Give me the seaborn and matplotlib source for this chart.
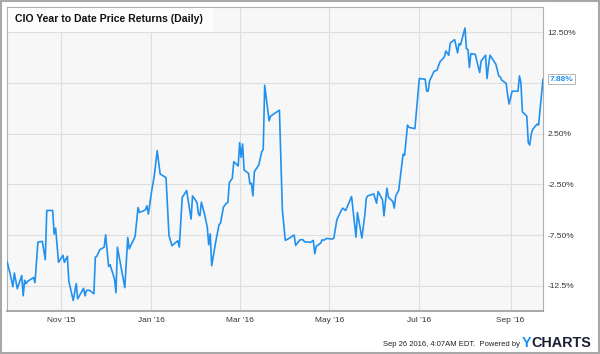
import pandas as pd
import seaborn as sns
import matplotlib.pyplot as plt
import matplotlib.dates as mdates
from matplotlib.patches import Rectangle

# Daten
dates = [
    "2015-09-25", "2015-09-27", "2015-09-29", "2015-09-30", "2015-10-02", "2015-10-05",
    "2015-10-06", "2015-10-07", "2015-10-08", "2015-10-09", "2015-10-13", "2015-10-14",
    "2015-10-16", "2015-10-19", "2015-10-21", "2015-10-22", "2015-10-26", "2015-10-27",
    "2015-10-28", "2015-10-30", "2015-11-02", "2015-11-03", "2015-11-05", "2015-11-06",
    "2015-11-09", "2015-11-11", "2015-11-12", "2015-11-16", "2015-11-17", "2015-11-18",
    "2015-11-20", "2015-11-23", "2015-11-24", "2015-11-25", "2015-11-27", "2015-11-30",
    "2015-12-01", "2015-12-03", "2015-12-04", "2015-12-07", "2015-12-08", "2015-12-09",
    "2015-12-14", "2015-12-16", "2015-12-17", "2015-12-21", "2015-12-23", "2015-12-24",
    "2015-12-28", "2015-12-29", "2015-12-30", "2016-01-01", "2016-01-03", "2016-01-05",
    "2016-01-07", "2016-01-11", "2016-01-13", "2016-01-15", "2016-01-19", "2016-01-20",
    "2016-01-22", "2016-01-25", "2016-01-28", "2016-01-29", "2016-02-01", "2016-02-02",
    "2016-02-03", "2016-02-04", "2016-02-06", "2016-02-08", "2016-02-09", "2016-02-10",
    "2016-02-11", "2016-02-14", "2016-02-16", "2016-02-17", "2016-02-19", "2016-02-21",
    "2016-02-22", "2016-02-23", "2016-02-25", "2016-02-26", "2016-02-29", "2016-03-01",
    "2016-03-02", "2016-03-03", "2016-03-04", "2016-03-07", "2016-03-08", "2016-03-09",
    "2016-03-10", "2016-03-11", "2016-03-14", "2016-03-16", "2016-03-17", "2016-03-18",
    "2016-03-21", "2016-03-22", "2016-03-28", "2016-03-30", "2016-04-01", "2016-04-04",
    "2016-04-06", "2016-04-07", "2016-04-08", "2016-04-11", "2016-04-13", "2016-04-14",
    "2016-04-18", "2016-04-20", "2016-04-21", "2016-04-22", "2016-04-25", "2016-04-26",
    "2016-04-27", "2016-04-29", "2016-05-03", "2016-05-04", "2016-05-06", "2016-05-09",
    "2016-05-10", "2016-05-12", "2016-05-16", "2016-05-19", "2016-05-20", "2016-05-23",
    "2016-05-25", "2016-05-26", "2016-05-27", "2016-05-31", "2016-06-02", "2016-06-03",
    "2016-06-06", "2016-06-07", "2016-06-09", "2016-06-10", "2016-06-13", "2016-06-14",
    "2016-06-15", "2016-06-17", "2016-06-20", "2016-06-21", "2016-06-23", "2016-06-24",
    "2016-06-28", "2016-07-01", "2016-07-05", "2016-07-06", "2016-07-07", "2016-07-08",
    "2016-07-11", "2016-07-13", "2016-07-15", "2016-07-18", "2016-07-19", "2016-07-21",
    "2016-07-22", "2016-07-25", "2016-07-27", "2016-07-28", "2016-07-29", "2016-08-01",
    "2016-08-02", "2016-08-03", "2016-08-04", "2016-08-05", "2016-08-08", "2016-08-09",
    "2016-08-11", "2016-08-12", "2016-08-15", "2016-08-16", "2016-08-17", "2016-08-18",
    "2016-08-22", "2016-08-24", "2016-08-25", "2016-08-26", "2016-08-29", "2016-08-30",
    "2016-08-31", "2016-09-02", "2016-09-06", "2016-09-07", "2016-09-08", "2016-09-09",
    "2016-09-12", "2016-09-13", "2016-09-14", "2016-09-15", "2016-09-16", "2016-09-19",
    "2016-09-20", "2016-09-23",
]
returns = [
    -10.1, -11.25, -12.6, -11.25, -12.8, -11.5,
    -13.5, -11.97, -12.3, -12.07, -11.7, -12.2,
    -8.2, -8.13, -9.94, -5.08, -5.08, -7.41,
    -6.82, -10.2, -9.5, -10.2, -9.6, -12.07,
    -13.97, -12.3, -13.8, -12.76, -13.5, -12.96,
    -12.96, -13.3, -9.68, -9.6, -8.95, -8.7,
    -7.48, -10.6, -10.43, -11.84, -13.2, -8.7,
    -12.7, -7.74, -8.86, -7.64, -4.79, -5.28,
    -5.02, -4.62, -5.44, -3.38, -1.67, 0.82,
    -1.48, -1.84, -7.54, -8.56, -8.07, -8.69,
    -3.8, -3.11, -5.93, -3.64, -4.29, -5.41,
    -5.6, -4.26, -5.34, -6.72, -8.46, -7.38,
    -10.53, -7.97, -6.49, -6.33, -4.75, -4.36,
    -4.29, -2.33, -1.9, -0.26, -0.69, 1.61,
    0.17, 1.48, -1.08, -1.41, -2.46, -2.39,
    -3.64, -1.24, -0.59, 0.72, 0.95, 7.28,
    3.77, 4.23, 4.82, -5.02, -8.03, -7.8,
    -7.57, -7.51, -8.53, -7.97, -7.97, -8.16,
    -8.23, -8.03, -9.35, -8.62, -8.3, -7.97,
    -8.03, -7.84, -7.9, -7.8, -6.0, -5.08,
    -4.85, -5.08, -3.7, -7.71, -5.28, -7.8,
    -5.51, -3.87, -3.64, -3.44, -4.36, -3.21,
    -4.03, -5.61, -2.88, -3.77, -4.2, -4.85,
    -3.64, -3.1, 0.49, 0.36, 3.35, 3.12,
    2.99, 7.94, 7.87, 6.7, 6.7, 7.71,
    8.66, 8.76, 9.58, 10.07, 10.66, 10.24,
    11.45, 11.78, 10.47, 11.39, 11.25, 12.93,
    10.89, 10.79, 9.02, 10.4, 10.33, 9.74,
    8.53, 9.68, 10.24, 7.94, 9.25, 10.24,
    9.35, 8.17, 8.1, 7.78, 7.45, 6.3,
    5.42, 6.69, 6.69, 8.2, 7.52, 4.66,
    4.23, 1.61, 1.38, 2.46, 2.92, 3.45,
    3.35, 7.88,
]
y_ticks = [-12.5, -7.5, -2.5, 2.5, 7.5, 12.5]
y_labels = ["-12.5%", "-7.50%", "-2.50%", "2.50%", "", "12.50%"]
x_ticks = ["2015-11-01", "2016-01-01", "2016-03-01", "2016-05-01", "2016-07-01", "2016-09-01"]
x_labels = ["Nov '15", "Jan '16", "Mar '16", "May '16", "Jul '16", "Sep '16"]
title = "CIO Year to Date Price Returns (Daily)"
last_label = "7.88%"
footer = "Sep 26 2016, 4:07AM EDT.  Powered by"

df = pd.DataFrame({"date": pd.to_datetime(dates), "ret": returns})

sns.set_theme(style="white")
plt.rcParams['font.family'] = ['Liberation Sans', 'DejaVu Sans']

W, H = 600, 354
fig = plt.figure(figsize=(W / 100, H / 100), dpi=100)
fig.patch.set_facecolor("white")
ax = fig.add_axes([7 / W, 1 - 311 / H, 536 / W, 304 / H])
ax.set_facecolor("#f7f7f7")

blue = "#2191f0"
sns.lineplot(data=df, x="date", y="ret", ax=ax, color=blue, linewidth=1.2, zorder=3)

ax.set_ylim(-15, 15)
ax.set_xlim(df["date"].iloc[0], df["date"].iloc[-1])

ax.yaxis.tick_right()
ax.set_yticks(y_ticks)
ax.set_yticklabels(y_labels)
ax.set_xticks(pd.to_datetime(x_ticks))
ax.set_xticklabels(x_labels)
ax.tick_params(axis="both", length=0, labelsize=6, colors="#333333")
ax.tick_params(axis="y", pad=3)
ax.tick_params(axis="x", pad=4)
ax.set_xlabel("")
ax.set_ylabel("")
ax.grid(True, color="#dedede", linewidth=0.8)
ax.set_axisbelow(True)
for side in ["left", "top", "right"]:
    ax.spines[side].set_color("#b0b0b0")
    ax.spines[side].set_linewidth(0.8)
ax.spines["bottom"].set_color("#9a9a9a")
ax.spines["bottom"].set_linewidth(1.2)

# Titel-Box
fig.add_artist(Rectangle((7.5 / W, 1 - 32 / H), 205 / W, 24.5 / H, transform=fig.transFigure,
                         facecolor="#fcfcfc", edgecolor="none", zorder=2))
fig.text(15 / W, 1 - 19 / H, title, fontsize=7.6, fontweight="bold", color="#111111",
         ha="left", va="center", zorder=3)

# Letzter Wert
ax.annotate(last_label, xy=(df["date"].iloc[-1], returns[-1]), xytext=(5, 0),
            textcoords="offset points", ha="left", va="center", fontsize=6,
            fontweight="bold", color=blue, annotation_clip=False,
            bbox=dict(boxstyle="square,pad=0.2", fc="white", ec="#aaaaaa", lw=0.6))

# Fusszeile
fig.text(383 / W, 1 - 345 / H, footer, fontsize=5.5, color="#222222", ha="left", va="center")
fig.text(522 / W, 1 - 343 / H, "Y", fontsize=10.4, fontweight="bold", color="#1e8ff5",
         ha="left", va="center")
fig.text(531.5 / W, 1 - 343 / H, "CHARTS", fontsize=10.4, fontweight="bold", color="#1b1d33",
         ha="left", va="center")

# Rahmen
fig.add_artist(Rectangle((1 / W, 1 / H), 598 / W, 352 / H, transform=fig.transFigure,
                         fill=False, edgecolor="#a8a8a8", linewidth=1.5))

plt.savefig("out.png", dpi=100)
